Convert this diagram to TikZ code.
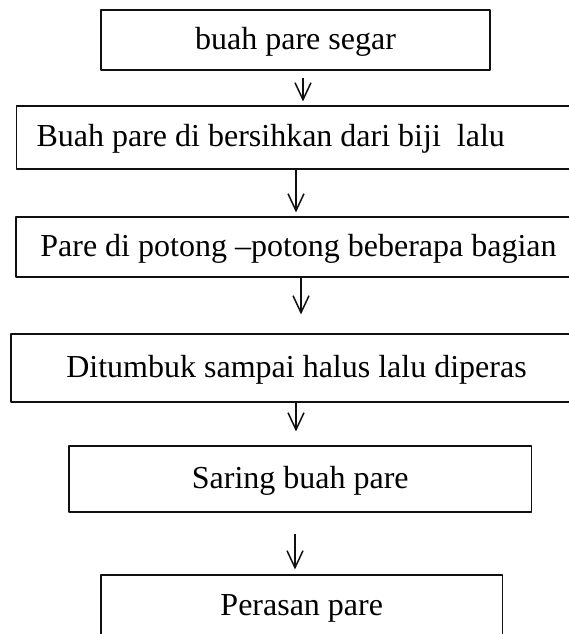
\documentclass[tikz,border=0pt]{standalone}
\usepackage{fontspec}
\setmainfont{Liberation Serif}
\usetikzlibrary{arrows.meta}
\newcommand{\Unit}{1pt}
\newcommand{\Edge}{1.1pt}
\newcommand{\Shaft}{1.5pt}
\newcommand{\PageW}{569}
\newcommand{\PageH}{634}
\definecolor{ink}{HTML}{101010}

\tikzset{
  stepbox/.style={draw=ink, line width=\Edge, rectangle, inner sep=0pt,
    text height=23pt, text depth=5pt, font=\fontsize{32}{38}\selectfont},
  flow/.style={draw=ink, line width=\Shaft,
    -{Straight Barb[length=17pt,width=16pt,line width=\Shaft]}},
}

\begin{document}
\begin{tikzpicture}[x=\Unit,y=-\Unit, line join=round]

  % ---- page: the wide boxes run off the right edge, so clip to it --------
  \useasboundingbox (0,0) rectangle (\PageW,\PageH);
  \clip (0,0) rectangle (\PageW,\PageH);

  % ---- steps --------------------------------------------------------------
  \node[stepbox, minimum width=389pt, minimum height=60pt]
    (segar) at (295.5,40) {buah pare segar};
  % Text of this one sits to the left, the second line is lost below.
  \node[stepbox, anchor=west, inner xsep=20pt, minimum height=63pt]
    (bersih) at (16,137.5)
    {\makebox[534pt][l]{Buah pare di bersihkan dari biji\ \ lalu}};
  \node[stepbox, minimum width=565pt, minimum height=60pt]
    (potong) at (298.5,247) {Pare di potong –potong beberapa bagian};
  \node[stepbox, minimum width=571pt, minimum height=68pt]
    (tumbuk) at (296.5,368) {Ditumbuk sampai halus lalu diperas};
  \node[stepbox, minimum width=462.5pt, minimum height=66pt]
    (saring) at (300.25,479) {Saring buah pare};
  \node[stepbox, minimum width=401.5pt, minimum height=62pt]
    (perasan) at (301.75,606) {Perasan pare};

  % ---- arrows: from/to/x/gap at top/gap at tip ----------------------------
  \foreach \from/\to/\x/\gs/\ge in {segar/bersih/303/7/4, bersih/potong/296/0/4,
      potong/tumbuk/301/0/19, tumbuk/saring/296/0/14, saring/perasan/295/21/5} {
    \draw[flow, shorten <=\gs pt, shorten >=\ge pt]
      (\from.south -| \x,0) -- (\to.north -| \x,0);
  }

\end{tikzpicture}
\end{document}
